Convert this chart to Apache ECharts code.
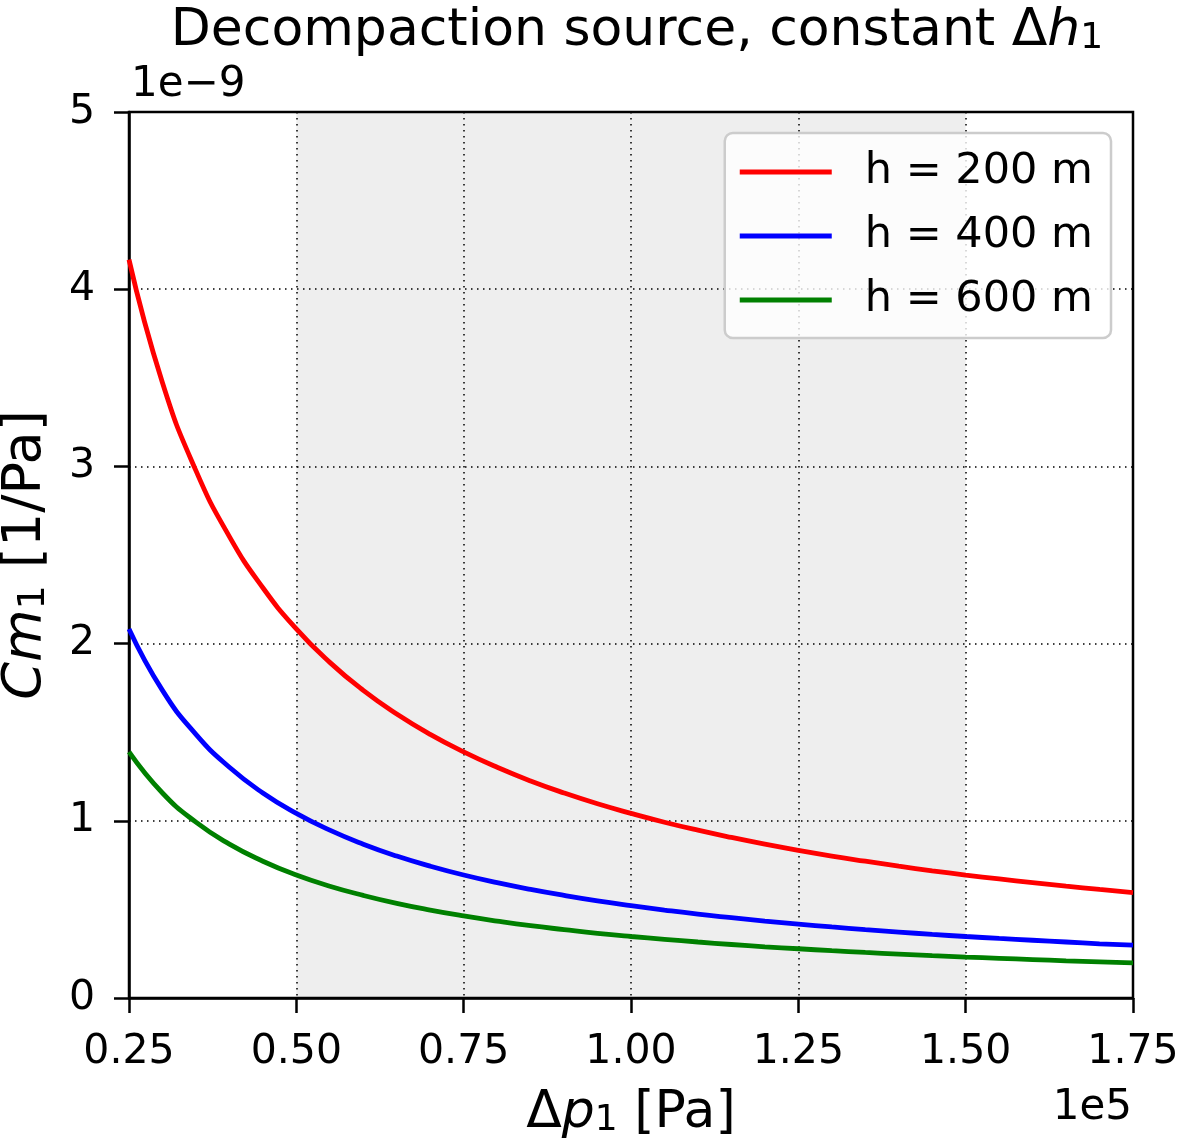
<!DOCTYPE html>
<html>
<head>
<meta charset="utf-8">
<script src="https://cdn.jsdelivr.net/npm/echarts@6/dist/echarts.min.js"></script>
<style>
  html, body { margin: 0; padding: 0; background: #fff; }
  #chart { width: 1180px; height: 1143px; }
</style>
</head>
<body>
<div id="chart"></div>
<script>
// Δp1 in units of 1e5 Pa
const pressure = [0.25, 0.30, 0.35, 0.40, 0.45, 0.50, 0.55, 0.60, 0.65, 0.70, 0.75,
  0.80, 0.85, 0.90, 0.95, 1.00, 1.05, 1.10, 1.15, 1.20, 1.25, 1.30, 1.35, 1.40,
  1.45, 1.50, 1.55, 1.60, 1.65, 1.70, 1.75]
// Cm1 in units of 1e-9 1/Pa
const cm200 = [4.167, 3.472, 2.976, 2.604, 2.315, 2.083, 1.894, 1.736, 1.603, 1.488, 1.389,
  1.302, 1.225, 1.157, 1.096, 1.042, 0.992, 0.947, 0.906, 0.868, 0.833, 0.801, 0.772, 0.744,
  0.718, 0.694, 0.672, 0.651, 0.631, 0.613, 0.595]
const cm400 = [2.083, 1.736, 1.488, 1.302, 1.157, 1.042, 0.947, 0.868, 0.801, 0.744, 0.694,
  0.651, 0.613, 0.579, 0.548, 0.521, 0.496, 0.473, 0.453, 0.434, 0.417, 0.401, 0.386, 0.372,
  0.359, 0.347, 0.336, 0.326, 0.316, 0.306, 0.298]
const cm600 = [1.389, 1.157, 0.992, 0.868, 0.772, 0.694, 0.631, 0.579, 0.534, 0.496, 0.463,
  0.434, 0.408, 0.386, 0.365, 0.347, 0.331, 0.316, 0.302, 0.289, 0.278, 0.267, 0.257, 0.248,
  0.239, 0.231, 0.224, 0.217, 0.210, 0.204, 0.198]
const seriesNames = ['h = 200 m', 'h = 400 m', 'h = 600 m']
const shadedRange = [0.5, 1.5]
const xTicks = [0.25, 1.75, 0.25] // min, max, step
const yTicks = [0, 5, 1]

const FONT = 'DejaVu Sans, sans-serif'
const chart = echarts.init(document.getElementById('chart'))

const pairs = (ys) => pressure.map((x, i) => [x, ys[i]])
const lineSeries = (name, ys, color) => ({
  name,
  type: 'line',
  data: pairs(ys),
  smooth: true,
  symbol: 'none',
  lineStyle: { color, width: 4.8 },
  itemStyle: { color },
  z: 3
})

const gridLine = { show: true, lineStyle: { color: '#000', width: 1.5, type: [1.5, 4.5] } }
const tick = { show: true, inside: false, length: 15, lineStyle: { color: '#000', width: 2.5 } }
const label = { color: '#000', fontSize: 41, fontFamily: FONT, margin: 34 }
const richFor = (size) => ({
  i: { fontStyle: 'italic', fontSize: size, fontFamily: FONT, color: '#000' },
  sub: { fontSize: Math.round(size * 0.7), fontFamily: FONT, color: '#000', verticalAlign: 'bottom', lineHeight: size * 0.8 }
})

// shaded band 0.5–1.5 sits behind the curves
const s1 = lineSeries(seriesNames[0], cm200, '#ff0000')
s1.markArea = {
  silent: true,
  itemStyle: { color: 'rgba(0,0,0,0.067)' },
  data: [[{ xAxis: shadedRange[0] }, { xAxis: shadedRange[1] }]],
  z: 1
}

const option = {
  animation: false,
  backgroundColor: '#fff',
  title: {
    text: 'Decompaction source, constant Δ{i|h}{sub|1}',
    left: 632,
    textAlign: 'center',
    top: 0,
    textStyle: { fontSize: 52, fontWeight: 'normal', fontFamily: FONT, color: '#000', rich: richFor(52) }
  },
  grid: {
    left: 129, right: 47, top: 112, bottom: 145,
    outerBoundsMode: 'none',
    containLabel: false,
    show: true, borderColor: '#000', borderWidth: 2.5, backgroundColor: 'transparent'
  },
  legend: {
    data: seriesNames,
    right: 69,
    top: 133,
    orient: 'vertical',
    icon: 'rect',
    itemWidth: 92,
    itemHeight: 5,
    itemGap: 16,
    padding: [15, 18, 14, 15],
    backgroundColor: 'rgba(255,255,255,0.8)',
    borderColor: '#cccccc',
    borderWidth: 2.5,
    borderRadius: 8,
    textStyle: { fontSize: 43, fontFamily: FONT, color: '#000', lineHeight: 48, padding: [0, 0, 0, 28] }
  },
  xAxis: {
    type: 'value',
    min: xTicks[0], max: xTicks[1], interval: xTicks[2],
    name: 'Δ{i|p}{sub|1} [Pa]',
    nameLocation: 'middle',
    nameGap: 89,
    nameTextStyle: { fontSize: 52, fontFamily: FONT, color: '#000', rich: richFor(52) },
    axisLine: { show: true, onZero: false, lineStyle: { color: '#000', width: 2.5 } },
    axisTick: tick,
    axisLabel: Object.assign({ formatter: (v) => v.toFixed(2) }, label),
    splitLine: gridLine
  },
  yAxis: {
    type: 'value',
    min: yTicks[0], max: yTicks[1], interval: yTicks[2],
    name: '{i|Cm}{sub|1} [1/Pa]',
    nameLocation: 'middle',
    nameGap: 76,
    nameRotate: 90,
    nameTextStyle: { fontSize: 54, fontFamily: FONT, color: '#000', rich: richFor(54) },
    axisLine: { show: true, lineStyle: { color: '#000', width: 2.5 } },
    axisTick: tick,
    axisLabel: label,
    splitLine: gridLine
  },
  graphic: [
    { type: 'text', left: 131, top: 64, style: { text: '1e\u22129', fontSize: 42, fontFamily: FONT, fill: '#000' } },
    { type: 'text', right: 48, top: 1087, style: { text: '1e5', fontSize: 42, fontFamily: FONT, fill: '#000' } }
  ],
  series: [
    s1,
    lineSeries(seriesNames[1], cm400, '#0000ff'),
    lineSeries(seriesNames[2], cm600, '#008000')
  ]
}

chart.setOption(option)
window.addEventListener('resize', () => chart.resize())
</script>
</body>
</html>
